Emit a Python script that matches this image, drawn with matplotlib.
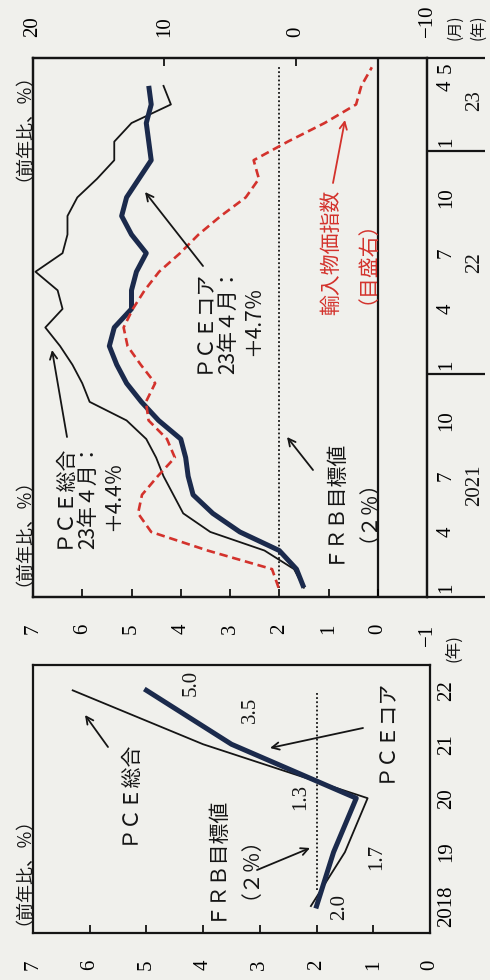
import matplotlib
matplotlib.use("Agg")
import matplotlib.pyplot as plt
from matplotlib import transforms
from matplotlib.patches import FancyArrowPatch

# ---------------- data ----------------
# monthly panel: Jan 2021 (index 0) .. May 2023 (index 28)
month_index = list(range(29))
month_tick_pos = [0, 3, 6, 9, 12, 15, 18, 21, 24, 27, 28]
month_tick_labels = ["1", "4", "7", "10", "1", "4", "7", "10", "1", "4", "5"]
year_labels_monthly = ["2021", "22", "23"]
year_centers_monthly = [5.5, 17.5, 26.2]
year_breaks_monthly = [11.5, 23.5]

pce_total_monthly = [1.5, 1.7, 2.3, 3.4, 3.95, 4.15, 4.35, 4.5, 4.7, 5.1, 5.85, 6.0,
                     6.2, 6.45, 6.75, 6.4, 6.5, 6.95, 6.4, 6.3, 6.3, 6.1, 5.7, 5.35,
                     5.35, 5.0, 4.2, 4.35]
pce_core_monthly = [1.5, 1.65, 2.0, 2.8, 3.35, 3.75, 3.85, 3.9, 4.0, 4.45, 4.8, 5.1,
                    5.3, 5.45, 5.35, 5.0, 5.0, 4.9, 4.7, 5.0, 5.2, 5.1, 4.85, 4.6,
                    4.65, 4.7, 4.6, 4.65]
import_price_monthly = [1.3, 1.8, 6.7, 11.0, 12.0, 11.7, 10.5, 9.2, 9.8, 11.2, 11.4, 10.7,
                        11.8, 12.8, 13.1, 12.4, 11.5, 10.4, 8.8, 7.4, 5.7, 3.8, 2.8, 3.2,
                        0.6, -2.2, -4.6, -5.0, -5.8]

# annual panel
years = [2018, 2019, 2020, 2021, 2022]
year_tick_labels = ["2018", "19", "20", "21", "22"]
pce_total_annual = [2.1, 1.5, 1.1, 4.0, 6.3]
pce_core_annual = [2.0, 1.7, 1.3, 3.5, 5.0]
core_label_offsets = [(23, -1), (43, -5), (-56, 1), (19, 34), (45, 7)]  # pixels

fed_target = 2.0
target_span_monthly = (0, 28)
target_span_annual = (2018.3, 2021.95)

left_ticks = [7, 6, 5, 4, 3, 2, 1, 0, -1]
right_ticks = [20, 10, 0, -10]
annual_ticks = [7, 6, 5, 4, 3, 2, 1, 0]

# ---------------- style ----------------
W, H = 490, 980
BG = "#f0f0ec"
INK = "#151515"
NAVY = "#1b2a4c"
RED = "#d3322c"
JP = ["Noto Sans CJK JP", "DejaVu Sans"]
NUM = ["Liberation Serif", "DejaVu Serif"]
TICK = 15

plt.rcParams["font.family"] = JP

fig = plt.figure(figsize=(W / 100, H / 100), dpi=100, facecolor=BG)
PX = transforms.Affine2D().scale(1 / W, -1 / H).translate(0, 1) + fig.transFigure


def rect(x0, y0, x1, y1):
    return [x0 / W, 1 - y1 / H, (x1 - x0) / W, (y1 - y0) / H]


def ptxt(x, y, s, size=15, color=INK, family=JP, **kw):
    fig.text(x / W, 1 - y / H, s, rotation=90, ha=kw.pop("ha", "center"),
             va=kw.pop("va", "center"), fontsize=size, color=color,
             family=family, multialignment="center", linespacing=1.2, **kw)


def parrow(x0, y0, x1, y1, color=INK):
    fig.add_artist(FancyArrowPatch((x0, y0), (x1, y1), transform=PX,
                                   arrowstyle="->", mutation_scale=13,
                                   lw=1.3, color=color, shrinkA=0, shrinkB=0))


def style_spines(ax):
    for s in ax.spines.values():
        s.set_linewidth(1.6)
        s.set_color(INK)


# ---------------- monthly panel (top) ----------------
ax1 = fig.add_axes(rect(33, 58, 427, 597))
ax1.set_facecolor(BG)
ax1.set_xlim(max(left_ticks), min(left_ticks))
ax1.set_ylim(month_index[0] - 0.5, month_index[-1] + 0.5)

n = len(pce_total_monthly)
ax1.axvline(0, color=INK, lw=1.6, zorder=1)
ax1.plot([fed_target, fed_target], target_span_monthly, color=INK, lw=1.3,
         ls=(0, (1, 1.3)), zorder=2)
ax1.plot(pce_total_monthly, month_index[:n], color=INK, lw=1.3, zorder=3)
ax1.plot(pce_core_monthly, month_index[:n], color=NAVY, lw=3.6, zorder=4,
         solid_capstyle="butt")

ax1.set_xticks(left_ticks)
ax1.set_xticklabels([str(t).replace("-", "−") for t in left_ticks], family=NUM)
ax1.tick_params(axis="x", direction="in", length=6, width=1.2, pad=19,
                labelsize=TICK, labelrotation=90)
ax1.yaxis.tick_right()
ax1.set_yticks(month_tick_pos)
ax1.set_yticklabels(month_tick_labels, family=NUM)
ax1.tick_params(axis="y", length=0, pad=7, labelsize=TICK, labelrotation=90)
for lab in ax1.get_yticklabels():
    lab.set_va("center")
style_spines(ax1)

ax1r = ax1.twiny()
ax1r.set_xlim(max(right_ticks), min(right_ticks))
ax1r.plot(import_price_monthly, month_index, color=RED, lw=1.9,
          ls=(0, (3.2, 1.8)), zorder=5)
ax1r.set_xticks(right_ticks)
ax1r.set_xticklabels([str(t).replace("-", "−") for t in right_ticks], family=NUM)
ax1r.tick_params(axis="x", direction="in", length=6, width=1.2, pad=15,
                 labelsize=TICK, labelrotation=90)
style_spines(ax1r)

# year separators / labels outside the monthly axis
blend1 = transforms.blended_transform_factory(PX, ax1.transData)
lo, hi = ax1.get_ylim()
for b in [lo] + year_breaks_monthly + [hi]:
    ax1.plot([427, 485], [b, b], transform=blend1, color=INK, lw=1.6,
             clip_on=False, solid_capstyle="butt")
for lab, c in zip(year_labels_monthly, year_centers_monthly):
    ax1.text(465, c, lab, transform=blend1, rotation=90, ha="left", va="center",
             fontsize=TICK, family=NUM, color=INK)

# ---------------- annual panel (bottom) ----------------
ax2 = fig.add_axes(rect(33, 665, 430, 933))
ax2.set_facecolor(BG)
ax2.set_xlim(max(annual_ticks), min(annual_ticks))
ax2.set_ylim(years[0] - 0.5, years[-1] + 0.47)
ax2.plot([fed_target, fed_target], target_span_annual, color=INK, lw=1.3,
         ls=(0, (1, 1.3)), zorder=2)
ax2.plot(pce_total_annual, years, color=INK, lw=1.3, zorder=3)
ax2.plot(pce_core_annual, years, color=NAVY, lw=3.6, zorder=4)

for v, yr, off in zip(pce_core_annual, years, core_label_offsets):
    ax2.annotate(f"{v:.1f}", xy=(v, yr), xytext=off, textcoords="offset pixels",
                 rotation=90, ha="center", va="center", fontsize=TICK,
                 family=NUM, color=INK)

ax2.set_xticks(annual_ticks)
ax2.set_xticklabels([str(t) for t in annual_ticks], family=NUM)
ax2.tick_params(axis="x", direction="in", length=6, width=1.2, pad=19,
                labelsize=TICK, labelrotation=90)
ax2.yaxis.tick_right()
ax2.set_yticks(years)
ax2.set_yticklabels(year_tick_labels, family=NUM)
ax2.tick_params(axis="y", length=0, pad=5, labelsize=TICK, labelrotation=90)
for lab in ax2.get_yticklabels():
    lab.set_va("center")
style_spines(ax2)

# ---------------- texts & arrows ----------------
ptxt(15, 118, "（前年比、％）", size=13)
ptxt(15, 523, "（前年比、％）", size=13)
ptxt(15, 862, "（前年比、％）", size=13)
ptxt(455, 27, "(月)", size=11)
ptxt(478, 27, "(年)", size=11)
ptxt(454, 648, "(年)", size=12)

ptxt(88, 496, "ＰＣＥ総合\n23年４月：\n＋4.4％")
parrow(67, 437, 52, 350)
ptxt(228, 321, "ＰＣＥコア\n23年４月：\n＋4.7％")
parrow(203, 266, 145, 192)
ptxt(345, 500, "ＦＲＢ目標値\n（２％）")
parrow(313, 470, 287, 437)
ptxt(344, 252, "輸入物価指数\n（目盛右）", color=RED)
parrow(333, 183, 345, 120, color=RED)

ptxt(128, 792, "ＰＣＥ総合")
parrow(108, 747, 85, 715)
ptxt(385, 730, "ＰＣＥコア")
parrow(363, 728, 270, 748)
ptxt(227, 857, "ＦＲＢ目標値\n（２％）")
parrow(257, 870, 310, 848)

fig.savefig("out.png", dpi=100, facecolor=BG)
